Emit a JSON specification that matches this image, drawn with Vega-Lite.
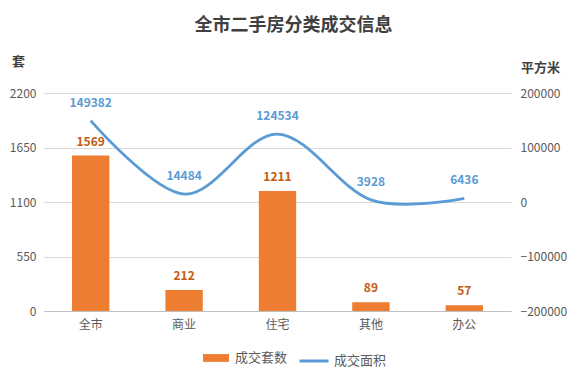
{
  "$schema": "https://vega.github.io/schema/vega-lite/v6.json",
  "autosize": {"type": "none"},
  "width": 467,
  "height": 218,
  "padding": {"left": 44, "top": 93, "right": 66, "bottom": 81},
  "background": "white",
  "config": {
    "font": "Noto Sans CJK SC",
    "view": {"stroke": null},
    "axis": {"labelColor": "#595959", "labelFontSize": 12, "titleColor": "#404040", "titleFontSize": 13, "titleFontWeight": "bold"}
  },
  "title": {"text": "全市二手房分类成交信息", "fontSize": 18, "fontWeight": "bold", "color": "#404040", "anchor": "middle", "dx": 16, "offset": 20},
  "data": {"values": [
    {"cat": "全市", "sets": 1569, "area": 149382},
    {"cat": "商业", "sets": 212, "area": 14484},
    {"cat": "住宅", "sets": 1211, "area": 124534},
    {"cat": "其他", "sets": 89, "area": 3928},
    {"cat": "办公", "sets": 57, "area": 6436}
  ]},
  "encoding": {
    "x": {"field": "cat", "type": "nominal", "sort": null,
      "scale": {"paddingInner": 0.6, "paddingOuter": 0.3},
      "axis": {"title": null, "labelAngle": 0, "ticks": false, "domainColor": "#bfbfbf", "labelPadding": 8, "labelFontSize": 12}}
  },
  "layer": [
    {
      "layer": [
        {
          "mark": {"type": "bar"},
          "encoding": {
            "y": {"field": "sets", "type": "quantitative",
              "scale": {"domain": [0, 2200]},
              "axis": {"title": "套", "titleAngle": 0, "titleAlign": "center", "titleBaseline": "middle", "titleX": -26, "titleY": -32, "format": "d",
                "values": [0, 550, 1100, 1650, 2200], "grid": true, "gridColor": "#d9d9d9", "domain": false, "ticks": false, "labelPadding": 8}},
            "fill": {"datum": "成交套数", "type": "nominal", "scale": {"range": ["#ED7D31"]},
              "legend": {"title": null, "orient": "none", "legendX": 159, "legendY": 252, "symbolType": "M-1,-0.3H1V0.3H-1Z", "symbolSize": 676, "symbolStrokeWidth": 0, "labelFontSize": 13, "labelColor": "#595959", "labelOffset": 6}}
          }
        },
        {
          "mark": {"type": "text", "baseline": "bottom", "dy": -7, "fontWeight": "bold", "fontSize": 12, "color": "#C55A11"},
          "encoding": {
            "y": {"field": "sets", "type": "quantitative"},
            "text": {"field": "sets", "type": "quantitative"}
          }
        }
      ]
    },
    {
      "layer": [
        {
          "mark": {"type": "line", "interpolate": "cardinal", "strokeWidth": 2.8},
          "encoding": {
            "y": {"field": "area", "type": "quantitative",
              "scale": {"domain": [-200000, 200000]},
              "axis": {"title": "平方米", "orient": "right", "titleAngle": 0, "titleAlign": "center", "titleBaseline": "middle", "titleX": 29, "titleY": -26, "format": "d",
                "values": [-200000, -100000, 0, 100000, 200000], "grid": false, "domain": false, "ticks": false, "labelPadding": 9}},
            "stroke": {"datum": "成交面积", "type": "nominal", "scale": {"range": ["#5B9BD5"]},
              "legend": {"title": null, "orient": "none", "legendX": 254, "legendY": 252, "symbolType": "stroke", "symbolSize": 841, "symbolStrokeWidth": 3, "labelFontSize": 13, "labelColor": "#595959", "labelOffset": 4}}
          }
        },
        {
          "mark": {"type": "text", "baseline": "bottom", "dy": -11, "fontWeight": "bold", "fontSize": 12, "color": "#5B9BD5"},
          "encoding": {
            "y": {"field": "area", "type": "quantitative"},
            "text": {"field": "area", "type": "quantitative", "format": "d"}
          }
        }
      ]
    }
  ],
  "resolve": {"scale": {"y": "independent"}}
}
